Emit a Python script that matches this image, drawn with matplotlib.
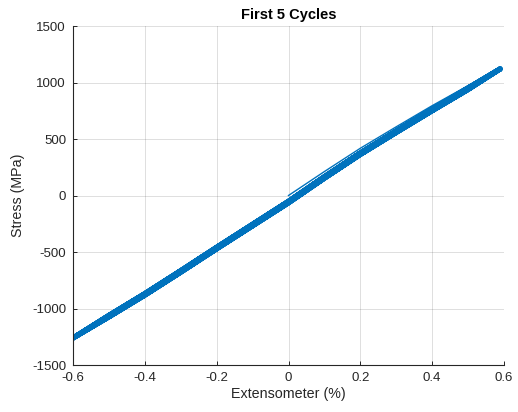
import matplotlib
matplotlib.use("Agg")
import matplotlib.pyplot as plt

# Extensometer strain grid (%) used by every branch
strain = [-0.6, -0.5, -0.4, -0.3, -0.2, -0.1, 0.0, 0.1, 0.2, 0.3, 0.4, 0.5, 0.589]

# Initial monotonic loading from the origin (%, MPa)
init_strain = [0.0, 0.1, 0.2, 0.3, 0.4, 0.5, 0.589]
init_stress = [0, 212, 418, 608, 795, 972, 1120]

# Unloading branches (top -> bottom), stress in MPa at the strain grid
unload_1 = [-1261, -1060, -867, -664, -457, -254, -50, 168, 378, 573, 765, 953, 1120]
unload_2 = [-1260, -1061, -868, -665, -458, -255, -51, 167, 377, 572, 764, 952, 1119]
unload_3 = [-1262, -1061, -869, -666, -459, -256, -52, 166, 376, 571, 763, 951, 1121]
unload_4 = [-1261, -1062, -869, -666, -459, -256, -52, 166, 376, 571, 763, 951, 1120]
unload_5 = [-1262, -1062, -870, -667, -460, -257, -53, 165, 375, 570, 762, 950, 1119]

# Reloading branches (bottom -> top), stress in MPa at the strain grid
reload_1 = [-1261, -1075, -883, -680, -473, -270, -66, 152, 362, 557, 749, 937, 1120]
reload_2 = [-1260, -1074, -882, -679, -472, -269, -65, 153, 363, 558, 750, 938, 1119]
reload_3 = [-1262, -1074, -881, -678, -471, -268, -64, 154, 364, 559, 751, 939, 1121]
reload_4 = [-1261, -1073, -881, -678, -471, -268, -64, 154, 364, 559, 751, 939, 1120]
reload_5 = [-1262, -1073, -880, -677, -470, -267, -63, 155, 365, 560, 752, 940, 1119]

unloads = [unload_1, unload_2, unload_3, unload_4, unload_5]
reloads = [reload_1, reload_2, reload_3, reload_4, reload_5]

# Assemble the cyclic strain/stress history
xs, ys = [], []
for up, lo in zip(unloads, reloads):
    xs += strain[::-1]
    ys += up[::-1]
    xs += strain
    ys += lo

plt.rcParams["font.family"] = ["Liberation Sans", "DejaVu Sans"]
plt.rcParams["axes.unicode_minus"] = False
ink = (0.15, 0.15, 0.15)
blue = "#0072BD"

fig = plt.figure(figsize=(5.18, 4.12), dpi=100)
ax = fig.add_axes([73 / 518, 1 - 365 / 412, (504 - 73) / 518, (365 - 26) / 412])

ax.plot(init_strain, init_stress, color=blue, linewidth=1.0)
ax.plot(xs, ys, color=blue, linewidth=3.6, solid_joinstyle="round",
        solid_capstyle="round")

ax.set_xlim(-0.6, 0.6)
ax.set_ylim(-1500, 1500)
ax.set_xticks([-0.6, -0.4, -0.2, 0, 0.2, 0.4, 0.6])
ax.set_xticklabels(["-0.6", "-0.4", "-0.2", "0", "0.2", "0.4", "0.6"])
ax.set_yticks([-1500, -1000, -500, 0, 500, 1000, 1500])

ax.grid(True, color=ink, alpha=0.15, linewidth=0.7)
ax.set_axisbelow(True)
for side in ("top", "right"):
    ax.spines[side].set_visible(False)
for side in ("left", "bottom"):
    ax.spines[side].set_color(ink)
    ax.spines[side].set_linewidth(0.8)

ax.tick_params(direction="in", length=3, width=0.7, color=ink,
               labelcolor=ink, labelsize=9.5, pad=5)

ax.set_xlabel("Extensometer (%)", fontsize=10.3, color=ink, labelpad=2)
ax.set_ylabel("Stress (MPa)", fontsize=10.3, color=ink, labelpad=5)
ax.set_title("First 5 Cycles", fontsize=10.5, fontweight="bold", color="black", pad=5)

fig.savefig("out.png", dpi=100)
